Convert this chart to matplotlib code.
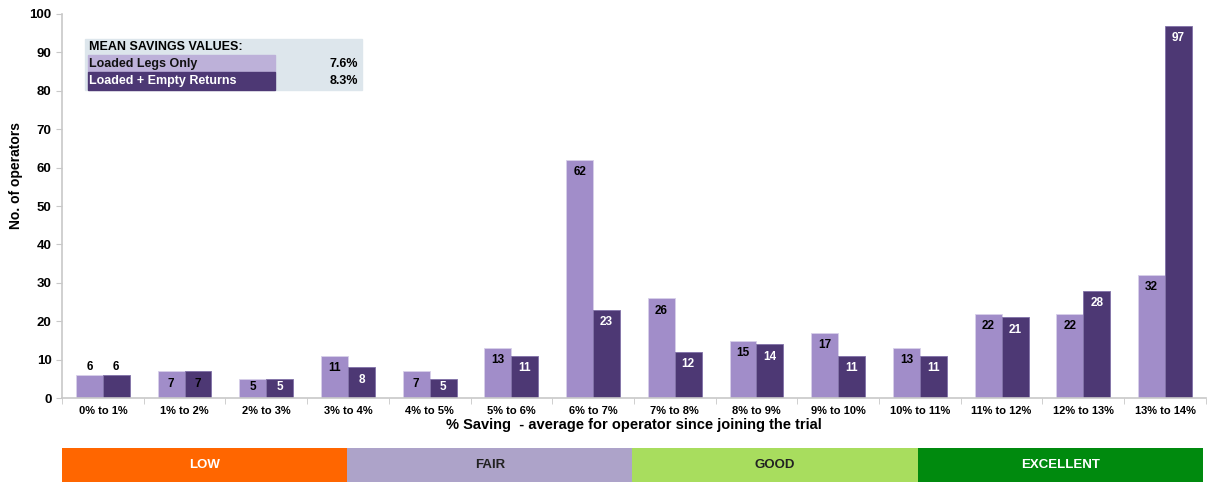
import matplotlib.pyplot as plt
import numpy as np
from matplotlib.patches import Rectangle

plt.rcParams['font.family'] = ['Liberation Sans', 'DejaVu Sans']
plt.rcParams['font.weight'] = 'bold'
plt.rcParams['axes.labelweight'] = 'bold'

categories = ['0% to 1%', '1% to 2%', '2% to 3%', '3% to 4%', '4% to 5%', '5% to 6%',
              '6% to 7%', '7% to 8%', '8% to 9%', '9% to 10%', '10% to 11%',
              '11% to 12%', '12% to 13%', '13% to 14%']
loaded_only = [6, 7, 5, 11, 7, 13, 62, 26, 15, 17, 13, 22, 22, 32]
loaded_empty = [6, 7, 5, 8, 5, 11, 23, 12, 14, 11, 11, 21, 28, 97]
bands = ['LOW', 'FAIR', 'GOOD', 'EXCELLENT']
band_colors = ['#FF6600', '#ADA3C9', '#A8DD5E', '#008A0E']
band_text = ['white', '#222222', '#222222', 'white']
mean_rows = [('Loaded Legs Only', '7.6%'), ('Loaded + Empty Returns', '8.3%')]

light = '#A18DC9'
dark = '#4D3874'

fig = plt.figure(figsize=(12.15, 4.82), dpi=100)
ax = fig.add_axes([0.051, 0.174, 0.9415, 0.797])

x = np.arange(len(categories))
w = 0.33
b1 = ax.bar(x - w / 2, loaded_only, w, color=light, edgecolor='#D8D0EA', linewidth=0.6)
b2 = ax.bar(x + w / 2, loaded_empty, w, color=dark, edgecolor='#8070A8', linewidth=0.6)


def label_y(i, v):
    # first group is labelled above the bars, the rest just inside the top
    if i == 0:
        return v + 2.2
    return max(v - 3.2, v / 2 + 0.3)


for i, r in enumerate(b1):
    v = loaded_only[i]
    ax.text(r.get_x() + r.get_width() / 2, label_y(i, v), str(v), ha='center', va='center',
            fontsize=8.5, color='black')
for i, r in enumerate(b2):
    v = loaded_empty[i]
    c = 'black' if i <= 1 else 'white'
    ax.text(r.get_x() + r.get_width() / 2, label_y(i, v), str(v), ha='center', va='center',
            fontsize=8.5, color=c)

ax.set_xlim(-0.5, len(categories) - 0.5)
ax.set_ylim(0, 100)
ax.set_yticks(range(0, 101, 10))
ax.set_xticks(x)
ax.set_xticklabels(categories, fontsize=8)
ax.set_xticks(np.arange(-0.5, len(categories), 1), minor=True)
ax.tick_params(axis='x', which='major', length=0, pad=6)
ax.tick_params(axis='x', which='minor', length=4, color='#C8C8C8')
ax.tick_params(axis='y', length=4, color='#C8C8C8', labelsize=9.5)
for s in ['top', 'right']:
    ax.spines[s].set_visible(False)
for s in ['left', 'bottom']:
    ax.spines[s].set_color('#C8C8C8')
    ax.spines[s].set_linewidth(1.2)
ax.set_ylabel('No. of operators', fontsize=10)
ax.yaxis.set_label_coords(-0.034, 0.58)
ax.set_xlabel('% Saving  - average for operator since joining the trial', fontsize=10.5, labelpad=1)

# mean savings box
tx0, tx1, tx2 = 0.020, 0.186, 0.262
rows_y = [0.935, 0.893, 0.849, 0.802]
ax.add_patch(Rectangle((tx0, rows_y[3]), tx2 - tx0, rows_y[0] - rows_y[3],
                       transform=ax.transAxes, color='#DDE6EC', zorder=3))
ax.add_patch(Rectangle((tx0 + 0.003, rows_y[2]), tx1 - tx0 - 0.003, rows_y[1] - rows_y[2],
                       transform=ax.transAxes, color='#BDB1D9', zorder=3))
ax.add_patch(Rectangle((tx0 + 0.003, rows_y[3]), tx1 - tx0 - 0.003, rows_y[2] - rows_y[3],
                       transform=ax.transAxes, color='#4D3874', zorder=3))
ax.text(tx0 + 0.004, (rows_y[0] + rows_y[1]) / 2, 'MEAN SAVINGS VALUES:', transform=ax.transAxes,
        fontsize=9, va='center', zorder=4)
for k, (lab, val) in enumerate(mean_rows):
    yc = (rows_y[k + 1] + rows_y[k + 2]) / 2
    ax.text(tx0 + 0.004, yc, lab, transform=ax.transAxes, fontsize=9, va='center',
            color='#111111' if k == 0 else 'white', zorder=4)
    ax.text(tx2 - 0.003, yc, val, transform=ax.transAxes, fontsize=9, va='center',
            ha='right', zorder=4)

# rating band
bx = fig.add_axes([0.051, 0.0, 0.939, 0.0705])
bx.set_ylim(0, 1)
bx.set_xlim(0, len(bands))
for k, name in enumerate(bands):
    bx.barh(0.5, 1, left=k, height=1.0, color=band_colors[k])
    bx.text(k + 0.5, 0.5, name, ha='center', va='center', fontsize=9.5,
            color=band_text[k])
bx.axis('off')

fig.savefig('out.png', dpi=100)
